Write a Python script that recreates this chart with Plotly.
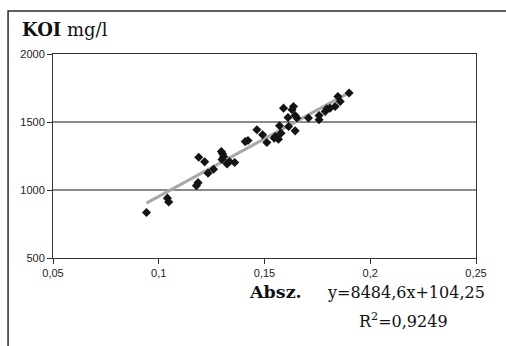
import plotly.graph_objects as go

# Absorbance (x) vs KOI mg/l (y)
absz = [0.0942, 0.1041, 0.1047, 0.1178, 0.1186, 0.1189, 0.1217, 0.1233, 0.1259,
        0.1296, 0.1302, 0.1307, 0.1299, 0.1323, 0.1334, 0.1359, 0.1409, 0.1422,
        0.1464, 0.1491, 0.1511, 0.1546, 0.1551, 0.1566, 0.1578, 0.1571, 0.1590,
        0.1637, 0.1630, 0.1611, 0.1645, 0.1653, 0.1614, 0.1645, 0.1708, 0.1758,
        0.1758, 0.1787, 0.1795, 0.1810, 0.1834, 0.1858, 0.1847, 0.1900]
koi = [835, 940, 912, 1032, 1054, 1241, 1207, 1124, 1153,
       1283, 1266, 1246, 1225, 1192, 1209, 1202, 1356, 1364,
       1443, 1406, 1349, 1381, 1393, 1374, 1418, 1472, 1602,
       1614, 1590, 1533, 1548, 1529, 1467, 1435, 1529, 1548,
       1516, 1577, 1597, 1602, 1614, 1651, 1688, 1713]

slope = 8484.6
intercept = 104.25
r2 = "0,9249"

x_ticks = [0.05, 0.1, 0.15, 0.2, 0.25]
y_ticks = [500, 1000, 1500, 2000]

trend_x = [min(absz), max(absz)]
trend_y = [slope * v + intercept for v in trend_x]

fig = go.Figure()
fig.add_trace(go.Scatter(x=trend_x, y=trend_y, mode="lines",
                         line=dict(color="#a9a9a9", width=3), hoverinfo="skip"))
fig.add_trace(go.Scatter(x=absz, y=koi, mode="markers",
                         marker=dict(symbol="diamond", size=7, color="#141414")))

W, H = 506, 346
L, R, T, B = 52.5, 30, 54, 88
pw, ph = W - L - R, H - T - B

def px(x):
    return (x - L) / pw

def py(y):
    return (H - B - y) / ph

serif = "DejaVu Serif, serif"
sans = "Liberation Sans, Arial, sans-serif"

fig.update_layout(
    width=W, height=H,
    margin=dict(l=L, r=R, t=T, b=B),
    paper_bgcolor="white", plot_bgcolor="white",
    showlegend=False,
    separators=", ",
    xaxis=dict(range=[0.05, 0.25], tickvals=x_ticks, showgrid=False,
               showline=True, linecolor="#333333", linewidth=1, mirror=True,
               ticks="outside", ticklen=5, tickcolor="#333333", zeroline=False,
               tickfont=dict(family=sans, size=11, color="#222222")),
    yaxis=dict(range=[500, 2000], tickvals=y_ticks, showgrid=True,
               gridcolor="#8a8a8a", gridwidth=1.5,
               showline=True, linecolor="#333333", linewidth=1, mirror=True,
               ticks="outside", ticklen=5, tickcolor="#333333", zeroline=False,
               tickfont=dict(family=sans, size=11, color="#222222")),
    shapes=[dict(type="rect", xref="paper", yref="paper",
                 x0=px(7.5), x1=px(520), y0=py(360), y1=py(11),
                 line=dict(color="#2a2a2a", width=1.5), layer="below")],
    annotations=[
        dict(text="<b>KOI</b> mg/l", xref="paper", yref="paper",
             x=px(19), y=py(29), xanchor="left", yanchor="middle",
             showarrow=False, font=dict(family=serif, size=18, color="#111111")),
        dict(text="<b>Absz.</b>", xref="paper", yref="paper",
             x=px(275), y=py(292), xanchor="center", yanchor="middle",
             showarrow=False, font=dict(family=serif, size=17.5, color="#111111")),
        dict(text="y=8484,6x+104,25", xref="paper", yref="paper",
             x=px(406), y=py(292), xanchor="center", yanchor="middle",
             showarrow=False, font=dict(family=serif, size=16, color="#111111")),
        dict(text="R<sup>2</sup>=" + r2, xref="paper", yref="paper",
             x=px(403), y=py(320), xanchor="center", yanchor="middle",
             showarrow=False, font=dict(family=serif, size=16, color="#111111")),
    ],
)

fig.write_html("out.html")
